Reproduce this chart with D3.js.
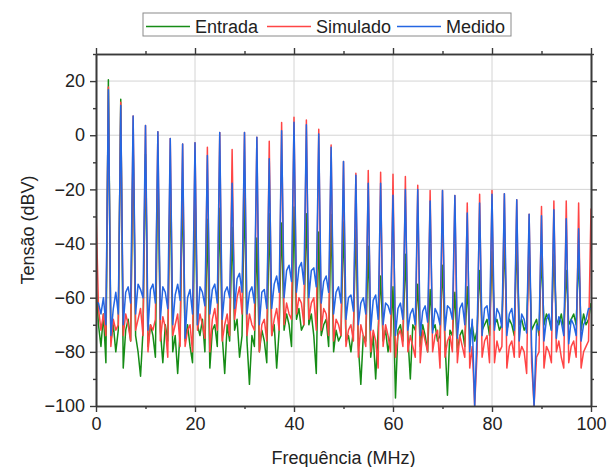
<!DOCTYPE html>
<html>
<head>
<meta charset="utf-8">
<script src="https://cdn.jsdelivr.net/npm/d3@7"></script>
<style>
  body { margin: 0; background: #fff; }
  text { font-family: "Liberation Sans", Arial, sans-serif; fill: #222; }
</style>
</head>
<body>
<div id="chart"></div>
<script>
// harmonic lines of the spectrum (MHz)
const harmonics = [0, 2.5, 5, 7.5, 10, 12.5, 15, 17.5, 20, 22.5, 25, 27.5, 30, 32.5, 35, 37.5, 40, 42.5, 45, 47.5,
  50, 52.5, 55, 57.5, 60, 62.5, 65, 67.5, 70, 72.5, 75, 77.5, 80, 82.5, 85, 87.5, 90, 92.5, 95, 97.5, 100];

// peak level at each harmonic (dBV)
const peakEntrada = [-55, 20.5, 13.3, -3, -7, -9.3, -17, -20, -20.5, -31, -27, -34, -21.6, -38, -29, -32.4, -26.5, -29, -35.7, -29.3,
  -32, -35, -41, -52, -56, -44, -55, -57, -48, -58, -56, -50, -43, -39.5, -40, -43, -44, -44, -50, -45, -62];
const peakSimulado = [-26, 17.8, 12.2, 7.1, 3.6, 1.3, -1.2, -3.2, -2.8, -4.4, 1.0, -5.3, 1.0, -0.7, -2.2, 4.7, 6.6, 5.6, 2.2, -3.6,
  -9.7, -14, -13, -13.7, -14.4, -15.2, -18.5, -20.4, -20.4, -22.3, -25, -21.8, -20.4, -21.6, -23.8, -29.2, -26.3, -24.3, -24.3, -25, -27.1];
const peakMedido = [-62, 16.8, 11.0, 7.1, 3.6, 1.3, -1.2, -3.2, -2.8, -7.5, 1.0, -17.7, 1.0, -0.7, -8.7, 1.7, 4.8, 3.9, 0.5, -4.4,
  -9.7, -14.8, -17.7, -17.7, -22.2, -20, -20, -24.3, -20.4, -22.3, -28.7, -25, -21.8, -21.6, -23.8, -29.2, -29.7, -27.5, -30.8, -34.5, -64];

// noise floor between harmonics, 4 samples after each line (+0.5, +1, +1.5, +2 MHz)
const floorOffsets = [0.5, 1, 1.5, 2];
const floorEntrada = [
  -70, -78, -66, -84,  -76, -70, -80, -72,  -86, -72, -68, -76,  -74, -80, -89, -72,  -78, -70, -74, -82,
  -72, -84, -70, -76,  -80, -74, -88, -72,  -76, -70, -78, -84,  -70, -74, -68, -80,  -86, -72, -70, -78,
  -74, -88, -70, -76,  -72, -68, -82, -74,  -76, -92, -74, -78,  -80, -72, -76, -84,  -74, -70, -86, -72,
  -72, -66, -70, -78,  -68, -64, -72, -70,  -70, -66, -74, -88,  -74, -70, -68, -78,  -80, -72, -76, -74,
  -76, -74, -80, -72,  -78, -92, -74, -76,  -82, -74, -90, -72,  -76, -72, -80, -74,  -97, -72, -70, -76,
  -74, -90, -70, -72,  -78, -70, -74, -80,  -72, -70, -76, -74,  -76, -96, -72, -74,  -80, -74, -72, -78,
  -74, -70, -76, -72,  -72, -70, -68, -74,  -70, -68, -72, -70,  -72, -68, -70, -74,  -70, -68, -72, -70,
  -72, -70, -68, -74,  -70, -66, -68, -72,  -68, -70, -66, -72,  -70, -68, -66, -70,  -72, -66, -70, -68];
const floorSimulado = [
  -64, -72, -66, -74,  -78, -68, -72, -70,  -74, -66, -70, -76,  -72, -68, -64, -74,  -80, -70, -72, -68,
  -76, -67, -71, -82,  -74, -70, -66, -78,  -78, -72, -70, -80,  -72, -66, -70, -75,  -80, -68, -64, -72,
  -76, -70, -66, -74,  -68, -60, -56, -66,  -74, -66, -70, -72,  -80, -70, -68, -76,  -74, -68, -64, -72,
  -70, -62, -66, -68,  -66, -60, -62, -70,  -68, -62, -60, -72,  -72, -64, -66, -74,  -76, -68, -70, -74,
  -78, -72, -70, -76,  -82, -70, -74, -78,  -80, -72, -76, -86,  -78, -70, -74, -80,  -82, -74, -72, -78,
  -80, -74, -78, -82,  -84, -72, -76, -80,  -80, -74, -72, -86,  -82, -76, -74, -80,  -84, -74, -78, -82,
  -86, -78, -100, -80, -82, -76, -74, -84,  -84, -76, -80, -78,  -86, -78, -76, -82,  -82, -78, -80, -88,
  -84, -100, -82, -80, -86, -78, -80, -84,  -80, -76, -82, -86,  -84, -78, -76, -82,  -86, -80, -78, -76];
const floorMedido = [
  -62, -66, -60, -70,  -74, -64, -58, -66,  -70, -58, -56, -62,  -66, -55, -57, -60,  -72, -57, -55, -62,
  -68, -56, -58, -64,  -70, -59, -55, -61,  -75, -60, -57, -66,  -70, -56, -58, -63,  -66, -57, -55, -62,
  -68, -58, -56, -60,  -64, -53, -51, -58,  -66, -58, -56, -62,  -70, -58, -57, -64,  -64, -55, -52, -58,
  -60, -50, -48, -54,  -58, -49, -47, -55,  -60, -50, -49, -56,  -62, -54, -52, -58,  -66, -58, -56, -62,
  -68, -60, -59, -65,  -70, -62, -60, -66,  -72, -61, -59, -68,  -70, -62, -63, -66,  -74, -64, -62, -68,
  -72, -66, -64, -70,  -74, -65, -63, -69,  -73, -64, -66, -70,  -72, -63, -64, -68,  -75, -64, -62, -70,
  -80, -68, -100, -72, -74, -64, -63, -70,  -72, -64, -66, -71,  -74, -66, -64, -72,  -76, -66, -68, -73,
  -78, -100, -70, -72, -76, -68, -66, -72,  -75, -67, -69, -74,  -77, -68, -70, -74,  -76, -70, -68, -64];

const xTicks = [0, 20, 40, 60, 80, 100];
const yTicks = [-100, -80, -60, -40, -20, 0, 20];

const series = [
  { name: "Entrada", color: "#168c16", peaks: peakEntrada, floor: floorEntrada },
  { name: "Simulado", color: "#ff4545", peaks: peakSimulado, floor: floorSimulado },
  { name: "Medido", color: "#2466e2", peaks: peakMedido, floor: floorMedido }
];

function buildPoints(s) {
  const pts = [];
  harmonics.forEach((f, k) => {
    pts.push([f, s.peaks[k]]);
    if (k < harmonics.length - 1) {
      floorOffsets.forEach((o, j) => pts.push([f + o, s.floor[k * 4 + j]]));
    }
  });
  return pts;
}

const width = 608, height = 467;
const margin = { left: 96, right: 17, top: 54, bottom: 61 };
const innerW = width - margin.left - margin.right;
const innerH = height - margin.top - margin.bottom;

const svg = d3.select("#chart").append("svg")
  .attr("width", width)
  .attr("height", height);

const x = d3.scaleLinear().domain([0, 100]).range([margin.left, margin.left + innerW]);
const y = d3.scaleLinear().domain([-100, 30]).range([margin.top + innerH, margin.top]);

svg.append("defs").append("clipPath").attr("id", "clip")
  .append("rect")
  .attr("x", margin.left).attr("y", margin.top)
  .attr("width", innerW).attr("height", innerH);

// grid
const grid = svg.append("g").attr("stroke", "#d4d4d4").attr("stroke-width", 1);
grid.selectAll(".gx").data(xTicks.slice(1, -1)).enter().append("line")
  .attr("x1", d => x(d)).attr("x2", d => x(d))
  .attr("y1", margin.top).attr("y2", margin.top + innerH);
grid.selectAll(".gy").data(yTicks.slice(1)).enter().append("line")
  .attr("y1", d => y(d)).attr("y2", d => y(d))
  .attr("x1", margin.left).attr("x2", margin.left + innerW);

// spectra
const line = d3.line().x(d => x(d[0])).y(d => y(d[1]));
const plot = svg.append("g").attr("clip-path", "url(#clip)");
series.forEach(s => {
  plot.append("path")
    .datum(buildPoints(s))
    .attr("fill", "none")
    .attr("stroke", s.color)
    .attr("stroke-width", 1.5)
    .attr("stroke-linejoin", "round")
    .attr("d", line);
});

// axes: major + minor ticks, mirrored on top / right
const xMinor = [10, 30, 50, 70, 90];
const yMinor = [-90, -70, -50, -30, -10, 10, 30];
const fontSize = "18px";

function styleAxis(g) {
  g.select(".domain").attr("stroke", "#3a3a3a").attr("stroke-width", 1.6);
  g.selectAll(".tick line").attr("stroke", "#3a3a3a").attr("stroke-width", 1.4);
  g.selectAll("text").attr("font-size", fontSize).attr("fill", "#222")
    .attr("font-family", "Liberation Sans, Arial, sans-serif");
}

function addAxis(axis, tx, ty) {
  const g = svg.append("g").attr("transform", `translate(${tx},${ty})`).call(axis);
  styleAxis(g);
  return g;
}

const yBase = margin.top + innerH;
const xRight = margin.left + innerW;

addAxis(d3.axisBottom(x).tickValues(xTicks).tickSize(6).tickPadding(5).tickSizeOuter(0), 0, yBase);
addAxis(d3.axisBottom(x).tickValues(xMinor).tickSize(3).tickFormat("").tickSizeOuter(0), 0, yBase);
addAxis(d3.axisTop(x).tickValues(xTicks).tickSize(6).tickFormat("").tickSizeOuter(0), 0, margin.top);
addAxis(d3.axisTop(x).tickValues(xMinor).tickSize(3).tickFormat("").tickSizeOuter(0), 0, margin.top);
addAxis(d3.axisLeft(y).tickValues(yTicks).tickSize(6).tickPadding(5).tickSizeOuter(0), margin.left, 0);
addAxis(d3.axisLeft(y).tickValues(yMinor).tickSize(3).tickFormat("").tickSizeOuter(0), margin.left, 0);
addAxis(d3.axisRight(y).tickValues(yTicks).tickSize(6).tickFormat("").tickSizeOuter(0), xRight, 0);
addAxis(d3.axisRight(y).tickValues(yMinor).tickSize(3).tickFormat("").tickSizeOuter(0), xRight, 0);

// axis titles
svg.append("text")
  .attr("x", margin.left + innerW / 2)
  .attr("y", 464)
  .attr("text-anchor", "middle")
  .attr("font-size", fontSize)
  .text("Frequência (MHz)");

svg.append("text")
  .attr("transform", `translate(34,${margin.top + innerH / 2}) rotate(-90)`)
  .attr("text-anchor", "middle")
  .attr("font-size", fontSize)
  .text("Tensão (dBV)");

// legend
const legend = svg.append("g");
legend.append("rect")
  .attr("x", 143).attr("y", 13).attr("width", 368).attr("height", 23)
  .attr("fill", "#fff").attr("stroke", "#8a8a8a").attr("stroke-width", 1);
const legendX = [146, 267, 397];
series.forEach((s, i) => {
  legend.append("line")
    .attr("x1", legendX[i]).attr("x2", legendX[i] + 44)
    .attr("y1", 26.5).attr("y2", 26.5)
    .attr("stroke", s.color).attr("stroke-width", 1.6);
  legend.append("text")
    .attr("x", legendX[i] + 49).attr("y", 33)
    .attr("font-size", fontSize)
    .text(s.name);
});
</script>
</body>
</html>
